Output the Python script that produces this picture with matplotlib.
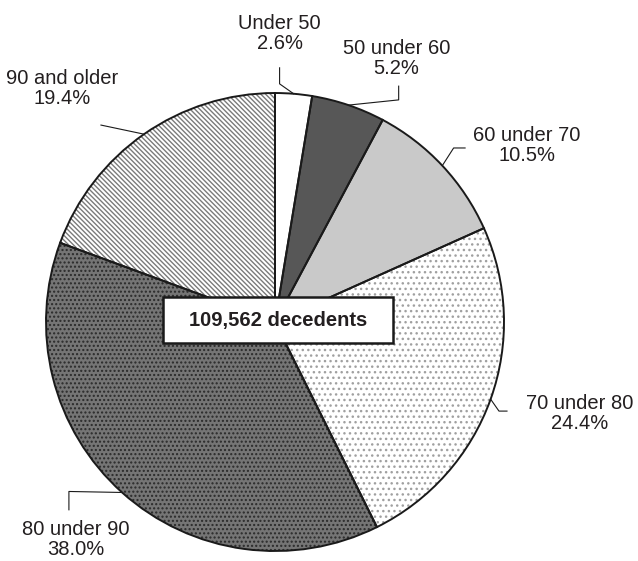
import numpy as np
import matplotlib
matplotlib.use('Agg')
import matplotlib.pyplot as plt
from matplotlib.patches import Rectangle

plt.rcParams['font.family'] = ['Liberation Sans', 'DejaVu Sans']
plt.rcParams['hatch.linewidth'] = 1.0

# data
categories = ['Under 50', '50 under 60', '60 under 70', '70 under 80', '80 under 90', '90 and older']
shares = [2.6, 5.2, 10.5, 24.4, 38.0, 19.4]
total_label = '109,562 decedents'

# styling per slice
faces = ['white', '#575757', '#c9c9c9', 'white', '#757575', 'white']
hatches = [None, None, None, '...', '....', '\\\\\\\\\\\\\\']
hatch_cols = ['white', '#575757', '#c9c9c9', '#a0a0a0', '#2a2a2a', '#7a7a7a']

# label positions (data coords, pie radius = 1) and elbow points
label_pos = [(0.02, 1.26), (0.53, 1.15), (1.10, 0.77), (1.33, -0.40), (-0.87, -0.95), (-0.93, 1.02)]
elbows = [[(0.02, 1.04), (0.02, 1.11)],
          [(0.54, 0.97), (0.54, 1.03)],
          [(0.78, 0.76), (0.83, 0.76)],
          [(0.978, -0.389), (1.013, -0.389)],
          [(-0.90, -0.74), (-0.90, -0.82)],
          [(-0.76, 0.86), (-0.76, 0.86)]]

fig = plt.figure(figsize=(6.38, 5.61), dpi=100)
ax = fig.add_axes([0.0721, 0.0178, 0.7179, 0.8164])

# hatched fill layer
wedges, _ = ax.pie(shares, startangle=90, counterclock=False, radius=1,
                   colors=faces, wedgeprops=dict(linewidth=0))
for w, h, hc in zip(wedges, hatches, hatch_cols):
    w.set_edgecolor(hc)
    if h:
        w.set_hatch(h)
# outline layer
wedges2, _ = ax.pie(shares, startangle=90, counterclock=False, radius=1,
                    colors=['none'] * len(shares),
                    wedgeprops=dict(linewidth=1.4, edgecolor='#1a1a1a', fill=False))
ax.set_xlim(-1, 1)
ax.set_ylim(-1, 1)
ax.set_aspect('equal')
ax.axis('off')

for i, w in enumerate(wedges2):
    mid = np.deg2rad((w.theta1 + w.theta2) / 2)
    ax_x, ax_y = np.cos(mid), np.sin(mid)
    pts = [(ax_x, ax_y)] + elbows[i]
    xs = [p[0] for p in pts]
    ys = [p[1] for p in pts]
    ax.plot(xs, ys, color='#1a1a1a', lw=0.8, clip_on=False)
    ax.text(label_pos[i][0], label_pos[i][1],
            categories[i] + '\n' + '%.1f%%' % shares[i],
            ha='center', va='center', fontsize=14.5, color='#231f20',
            linespacing=1.1)

ax.add_patch(Rectangle((-0.489, -0.092), 1.004, 0.201, facecolor='white',
                       edgecolor='#1a1a1a', linewidth=1.8, zorder=5))
ax.text(0.013, 0.008, total_label, ha='center', va='center', fontsize=14.5,
        fontweight='bold', color='#231f20', zorder=6)

fig.savefig('out.png', dpi=100)
